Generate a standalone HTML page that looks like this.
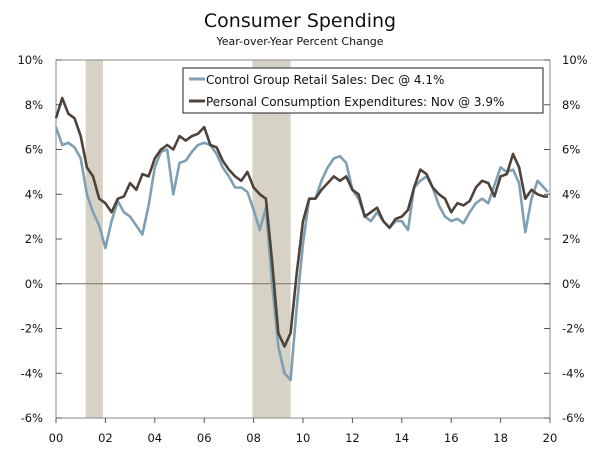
<!DOCTYPE html>
<html><head><meta charset="utf-8"><style>
body{margin:0;background:#fff;}
svg{display:block;font-family:"DejaVu Sans","Liberation Sans",sans-serif;}
</style></head><body>
<svg id="chart" width="600" height="450" xmlns="http://www.w3.org/2000/svg">
<text x="300" y="27" text-anchor="middle" font-size="19" fill="#111">Consumer Spending</text>
<text x="300" y="45" text-anchor="middle" font-size="11" fill="#111">Year-over-Year Percent Change</text>
<g id="rec"></g><g id="axes"></g><g id="series"></g>
<g>
<rect x="183" y="68" width="360" height="45" fill="#fff" stroke="#222" stroke-width="1"/>
<line x1="189" y1="79" x2="205" y2="79" stroke="#7f9fb3" stroke-width="3"/>
<text x="206" y="84" font-size="12" fill="#111">Control Group Retail Sales: Dec @ 4.1%</text>
<line x1="189" y1="101" x2="205" y2="101" stroke="#4f4239" stroke-width="3"/>
<text x="206" y="106" font-size="12" fill="#111">Personal Consumption Expenditures: Nov @ 3.9%</text>
</g>
</svg>
<script>
const years=[2000,2000.25,2000.5,2000.75,2001,2001.25,2001.5,2001.75,2002,2002.25,2002.5,2002.75,2003,2003.25,2003.5,2003.75,2004,2004.25,2004.5,2004.75,2005,2005.25,2005.5,2005.75,2006,2006.25,2006.5,2006.75,2007,2007.25,2007.5,2007.75,2008,2008.25,2008.5,2008.75,2009,2009.25,2009.5,2009.75,2010,2010.25,2010.5,2010.75,2011,2011.25,2011.5,2011.75,2012,2012.25,2012.5,2012.75,2013,2013.25,2013.5,2013.75,2014,2014.25,2014.5,2014.75,2015,2015.25,2015.5,2015.75,2016,2016.25,2016.5,2016.75,2017,2017.25,2017.5,2017.75,2018,2018.25,2018.5,2018.75,2019,2019.25,2019.5,2019.75,2019.92];
const pce=[7.4,8.3,7.6,7.4,6.6,5.2,4.8,3.8,3.6,3.2,3.8,3.9,4.5,4.2,4.9,4.8,5.6,6.0,6.2,6.0,6.6,6.4,6.6,6.7,7.0,6.2,6.1,5.5,5.1,4.8,4.6,5.0,4.3,4.0,3.8,1.0,-2.2,-2.8,-2.2,0.5,2.8,3.8,3.8,4.2,4.5,4.8,4.6,4.8,4.2,4.0,3.0,3.2,3.4,2.8,2.5,2.9,3.0,3.3,4.3,5.1,4.9,4.3,4.0,3.8,3.2,3.6,3.5,3.7,4.3,4.6,4.5,3.9,4.8,4.9,5.8,5.2,3.8,4.2,4.0,3.9,3.9];
const retail=[7.0,6.2,6.3,6.1,5.6,4.0,3.2,2.6,1.6,2.8,3.7,3.2,3.0,2.6,2.2,3.5,5.2,5.9,6.0,4.0,5.4,5.5,5.9,6.2,6.3,6.2,5.8,5.2,4.8,4.3,4.3,4.1,3.3,2.4,3.4,0.0,-2.8,-4.0,-4.3,-1.0,1.8,3.8,3.8,4.6,5.2,5.6,5.7,5.4,4.2,3.8,3.0,2.8,3.2,2.8,2.5,2.8,2.8,2.4,4.3,4.6,4.8,4.3,3.5,3.0,2.8,2.9,2.7,3.2,3.6,3.8,3.6,4.4,5.2,5.0,5.1,4.5,2.3,3.8,4.6,4.3,4.1];
const recStart=[2001.2,2007.95];
const recEnd=[2001.9,2009.5];
const yTicks=[-6,-4,-2,0,2,4,6,8,10];
const xTicks=[2000,2002,2004,2006,2008,2010,2012,2014,2016,2018,2020];
const NS="http://www.w3.org/2000/svg";
const L=56,R=550,T=60,B=418;
const X=y=>L+(y-2000)/20*(R-L);
const Y=v=>T+(10-v)/16*(B-T);
function mk(t,a,p){const e=document.createElementNS(NS,t);for(const k in a)e.setAttribute(k,a[k]);p.appendChild(e);return e;}
const rec=document.getElementById('rec'),ax=document.getElementById('axes'),se=document.getElementById('series');
recStart.forEach((s,i)=>{const r=mk('rect',{x:X(s),y:T,width:X(recEnd[i])-X(s),height:B-T,fill:'#d6d2c5'},rec);

});
const frame=mk('rect',{x:L,y:T,width:R-L,height:B-T,fill:'none',stroke:'#888','stroke-width':1},ax);


const zl=mk('line',{x1:L,x2:R,y1:Y(0),y2:Y(0),stroke:'#7a7060','stroke-width':1},ax);


yTicks.forEach(v=>{const y=Y(v);
mk('line',{x1:L,x2:L+6,y1:y,y2:y,stroke:'#555'},ax);mk('line',{x1:R-6,x2:R,y1:y,y2:y,stroke:'#555'},ax);
const a=mk('text',{x:L-13,y:y+4,'text-anchor':'end','font-size':11.5,fill:'#111'},ax);a.textContent=v+'%';


const b=mk('text',{x:R+12,y:y+4,'text-anchor':'start','font-size':11.5,fill:'#111'},ax);b.textContent=v+'%';

});
xTicks.forEach(t=>{const x=X(t);mk('line',{x1:x,x2:x,y1:B,y2:B+5,stroke:'#555'},ax);
const a=mk('text',{x:x,y:B+24,'text-anchor':'middle','font-size':11.5,fill:'#111'},ax);a.textContent=String(t).slice(2);

});
function line(vals,col,name){const d=vals.map((v,i)=>(i?'L':'M')+X(years[i]).toFixed(1)+','+Y(v).toFixed(1)).join('');
const p=mk('path',{d:d,fill:'none',stroke:col,'stroke-width':2.6,'stroke-linejoin':'round'},se);

}
line(retail,'#7f9fb3','retail-sales-line');
line(pce,'#4f4239','pce-line');
</script>
</body></html>
